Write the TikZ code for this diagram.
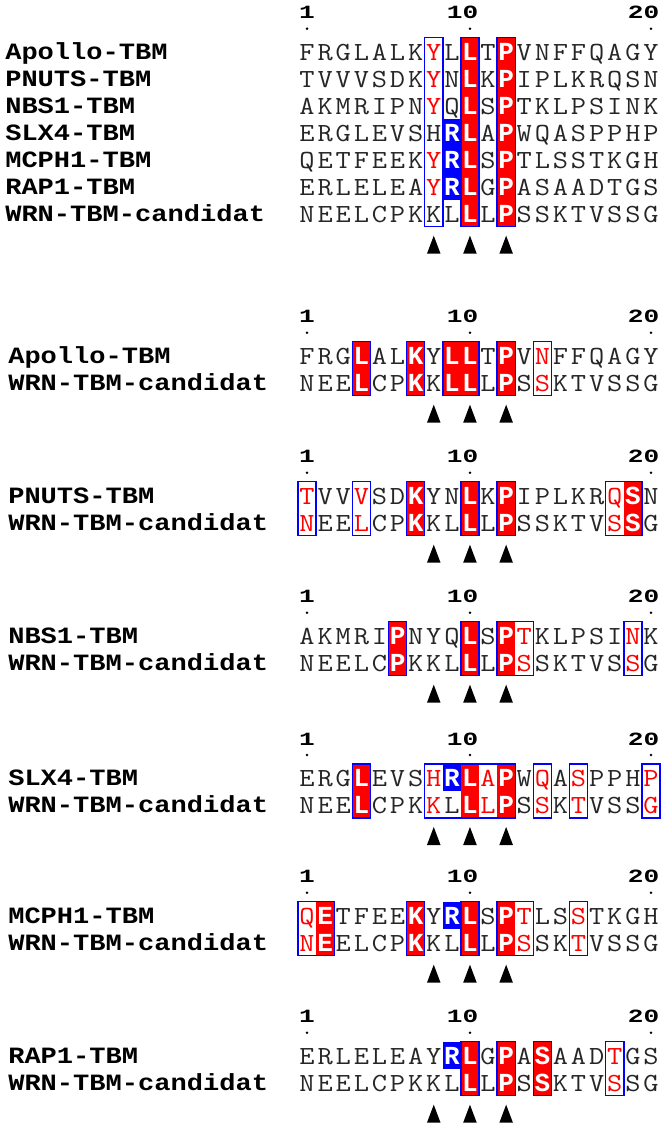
\documentclass[tikz,border=0pt]{standalone}
\usepackage{fontspec}
\usepackage{graphicx}
\newfontfamily\monob{Liberation Mono}

\tikzset{
  seqlet/.style={font=\ttfamily\fontsize{19.6}{21}\selectfont, text=black!85, inner sep=0pt, anchor=base},
  seqred/.style={seqlet, text=red},
  seqwhite/.style={font=\monob\bfseries\fontsize{19.5}{20}\selectfont, text=white, inner sep=0pt, anchor=base},
  seqlabel/.style={font=\monob\bfseries\fontsize{17.5}{20}\selectfont, text=black, inner sep=0pt, anchor=base west},
  posnum/.style={font=\monob\bfseries\fontsize{14}{16}\selectfont, text=black, inner sep=0pt},
  redfill/.style={fill=red},
  bluefill/.style={fill=blue},
  outl/.style={draw=blue, line width=1.05pt},
  markdot/.style={fill=black},
  marktri/.style={fill=black},
}

\newcommand\wid[1]{\scalebox{1.13}[1]{#1}}

\def\placelet#1#2\relax{%
  \ifx#1*\node[seqred] (\pfx c\i) at (\xx,\yyb) {\wid{#2}};%
  \else\ifx#1!\node[seqwhite] (\pfx c\i) at (\xx,\yyb) {#2};%
  \else\node[seqlet] (\pfx c\i) at (\xx,\yyb) {\wid{#1#2}};%
  \fi\fi}

% #1 prefix, #2 block top, #3 row, #4 list
\newcommand\seqline[4]{%
  \def\pfx{#1}\pgfmathsetmacro\yyb{#2+27*(#3-1)+22.7}%
  \foreach \c [count=\i] in {#4}{%
    \pgfmathsetmacro\xx{298+(\i-0.5)*18.1}%
    \expandafter\placelet\c\relax}}

% #1 name, #2 x, #3 block top, #4 row, #5 text
\newcommand\seqlab[5]{%
  \node[seqlabel] (#1) at ({#2},{#3+27*(#4-1)+21.7}) {\scalebox{1.16}[1]{#5}};}

% #1 style, #2 T, #3 c1, #4 c2, #5 r1, #6 r2
\newcommand\cbox[6]{\path[#1] ({298+(#3-1)*18.1},{#2+27*(#5-1)}) rectangle ({298+#4*18.1},{#2+27*#6});}

% #1 prefix, #2 T
\newcommand\posrow[2]{%
  \node[posnum, anchor=base] (#1n1) at ({298+0.5*18.1},{#2-19}) {\scalebox{1.4}[1]{1}};
  \node[posnum, anchor=base east] (#1n10) at ({298+9.5*18.1+8.5},{#2-19}) {\scalebox{1.4}[1]{10}};
  \node[posnum, anchor=base east] (#1n20) at ({298+19.5*18.1+8.5},{#2-19}) {\scalebox{1.4}[1]{20}};
  \fill[markdot] ({298+0.5*18.1},{#2-9}) circle[radius=1.05pt];
  \fill[markdot] ({298+9.5*18.1},{#2-9}) circle[radius=1.05pt];
  \fill[markdot] ({298+19.5*18.1},{#2-9}) circle[radius=1.05pt];}

% #1 T, #2 number of rows
\newcommand\tris[2]{%
  \foreach \cc in {8,10,12}{%
    \pgfmathsetmacro\tx{298+(\cc-0.5)*18.1}%
    \pgfmathsetmacro\ty{#1+27*(#2-1)+15}%
    \fill[marktri] ({\tx-6.8},{\ty+39}) -- ({\tx+6.8},{\ty+39}) -- ({\tx},{\ty+21}) -- cycle;}}

\begin{document}
\begin{tikzpicture}[x=0.75pt,y=-0.75pt]
\fill[white] (0,0) rectangle (663,1128);
\useasboundingbox (0,0) rectangle (663,1128);

% ---------------- Block 1 ----------------
\def\T{37.7}
\cbox{redfill}{\T}{10}{10}{1}{7}
\cbox{redfill}{\T}{12}{12}{1}{7}
\cbox{bluefill}{\T}{9}{9}{4}{6}
\cbox{outl}{\T}{8}{8}{1}{7}
\cbox{outl}{\T}{10}{10}{1}{7}
\cbox{outl}{\T}{12}{12}{1}{7}
\posrow{ba}{\T}
\seqlab{ba1}{5}{\T}{1}{Apollo-TBM}
\seqlab{ba2}{5}{\T}{2}{PNUTS-TBM}
\seqlab{ba3}{5}{\T}{3}{NBS1-TBM}
\seqlab{ba4}{5}{\T}{4}{SLX4-TBM}
\seqlab{ba5}{5}{\T}{5}{MCPH1-TBM}
\seqlab{ba6}{5}{\T}{6}{RAP1-TBM}
\seqlab{ba7}{5}{\T}{7}{WRN-TBM-candidat}
\seqline{bar1}{\T}{1}{F,R,G,L,A,L,K,*Y,L,!L,T,!P,V,N,F,F,Q,A,G,Y}
\seqline{bar2}{\T}{2}{T,V,V,V,S,D,K,*Y,N,!L,K,!P,I,P,L,K,R,Q,S,N}
\seqline{bar3}{\T}{3}{A,K,M,R,I,P,N,*Y,Q,!L,S,!P,T,K,L,P,S,I,N,K}
\seqline{bar4}{\T}{4}{E,R,G,L,E,V,S,H,!R,!L,A,!P,W,Q,A,S,P,P,H,P}
\seqline{bar5}{\T}{5}{Q,E,T,F,E,E,K,*Y,!R,!L,S,!P,T,L,S,S,T,K,G,H}
\seqline{bar6}{\T}{6}{E,R,L,E,L,E,A,*Y,!R,!L,G,!P,A,S,A,A,D,T,G,S}
\seqline{bar7}{\T}{7}{N,E,E,L,C,P,K,K,L,!L,L,!P,S,S,K,T,V,S,S,G}
\tris{\T}{7}

% ---------------- Block 2 ----------------
\def\T{341.7}
\cbox{redfill}{\T}{4}{4}{1}{2}
\cbox{redfill}{\T}{7}{7}{1}{2}
\cbox{redfill}{\T}{9}{10}{1}{2}
\cbox{redfill}{\T}{12}{12}{1}{2}
\cbox{outl}{\T}{4}{4}{1}{2}
\cbox{outl}{\T}{7}{7}{1}{2}
\cbox{outl}{\T}{9}{10}{1}{2}
\cbox{outl}{\T}{12}{12}{1}{2}
\cbox{outl}{\T}{14}{14}{1}{2}
\posrow{bb}{\T}
\seqlab{bb1}{8}{\T}{1}{Apollo-TBM}
\seqlab{bb2}{8}{\T}{2}{WRN-TBM-candidat}
\seqline{bbr1}{\T}{1}{F,R,G,!L,A,L,!K,Y,!L,!L,T,!P,V,*N,F,F,Q,A,G,Y}
\seqline{bbr2}{\T}{2}{N,E,E,!L,C,P,!K,K,!L,!L,L,!P,S,*S,K,T,V,S,S,G}
\tris{\T}{2}

% ---------------- Block 3 ----------------
\def\T{481.7}
\cbox{redfill}{\T}{7}{7}{1}{2}
\cbox{redfill}{\T}{10}{10}{1}{2}
\cbox{redfill}{\T}{12}{12}{1}{2}
\cbox{redfill}{\T}{19}{19}{1}{2}
\cbox{outl}{\T}{1}{1}{1}{2}
\cbox{outl}{\T}{4}{4}{1}{2}
\cbox{outl}{\T}{7}{7}{1}{2}
\cbox{outl}{\T}{10}{10}{1}{2}
\cbox{outl}{\T}{12}{12}{1}{2}
\cbox{outl}{\T}{18}{19}{1}{2}
\posrow{bc}{\T}
\seqlab{bc1}{8}{\T}{1}{PNUTS-TBM}
\seqlab{bc2}{8}{\T}{2}{WRN-TBM-candidat}
\seqline{bcr1}{\T}{1}{*T,V,V,*V,S,D,!K,Y,N,!L,K,!P,I,P,L,K,R,*Q,!S,N}
\seqline{bcr2}{\T}{2}{*N,E,E,*L,C,P,!K,K,L,!L,L,!P,S,S,K,T,V,*S,!S,G}
\tris{\T}{2}

% ---------------- Block 4 ----------------
\def\T{621.7}
\cbox{redfill}{\T}{6}{6}{1}{2}
\cbox{redfill}{\T}{10}{10}{1}{2}
\cbox{redfill}{\T}{12}{12}{1}{2}
\cbox{outl}{\T}{6}{6}{1}{2}
\cbox{outl}{\T}{10}{10}{1}{2}
\cbox{outl}{\T}{12}{13}{1}{2}
\cbox{outl}{\T}{19}{19}{1}{2}
\posrow{bd}{\T}
\seqlab{bd1}{8}{\T}{1}{NBS1-TBM}
\seqlab{bd2}{8}{\T}{2}{WRN-TBM-candidat}
\seqline{bdr1}{\T}{1}{A,K,M,R,I,!P,N,Y,Q,!L,S,!P,*T,K,L,P,S,I,*N,K}
\seqline{bdr2}{\T}{2}{N,E,E,L,C,!P,K,K,L,!L,L,!P,*S,S,K,T,V,S,*S,G}
\tris{\T}{2}

% ---------------- Block 5 ----------------
\def\T{764}
\cbox{redfill}{\T}{4}{4}{1}{2}
\cbox{redfill}{\T}{10}{10}{1}{2}
\cbox{redfill}{\T}{12}{12}{1}{2}
\cbox{bluefill}{\T}{9}{9}{1}{1}
\cbox{outl}{\T}{4}{4}{1}{2}
\cbox{outl}{\T}{8}{12}{1}{2}
\cbox{outl}{\T}{14}{14}{1}{2}
\cbox{outl}{\T}{16}{16}{1}{2}
\cbox{outl}{\T}{20}{20}{1}{2}
\posrow{be}{\T}
\seqlab{be1}{8}{\T}{1}{SLX4-TBM}
\seqlab{be2}{8}{\T}{2}{WRN-TBM-candidat}
\seqline{ber1}{\T}{1}{E,R,G,!L,E,V,S,*H,!R,!L,*A,!P,W,*Q,A,*S,P,P,H,*P}
\seqline{ber2}{\T}{2}{N,E,E,!L,C,P,K,*K,L,!L,*L,!P,S,*S,K,*T,V,S,S,*G}
\tris{\T}{2}

% ---------------- Block 6 ----------------
\def\T{901.7}
\cbox{redfill}{\T}{2}{2}{1}{2}
\cbox{redfill}{\T}{7}{7}{1}{2}
\cbox{redfill}{\T}{10}{10}{1}{2}
\cbox{redfill}{\T}{12}{12}{1}{2}
\cbox{bluefill}{\T}{9}{9}{1}{1}
\cbox{outl}{\T}{1}{2}{1}{2}
\cbox{outl}{\T}{7}{7}{1}{2}
\cbox{outl}{\T}{10}{10}{1}{2}
\cbox{outl}{\T}{12}{13}{1}{2}
\cbox{outl}{\T}{16}{16}{1}{2}
\posrow{bf}{\T}
\seqlab{bf1}{8}{\T}{1}{MCPH1-TBM}
\seqlab{bf2}{8}{\T}{2}{WRN-TBM-candidat}
\seqline{bfr1}{\T}{1}{*Q,!E,T,F,E,E,!K,Y,!R,!L,S,!P,*T,L,S,*S,T,K,G,H}
\seqline{bfr2}{\T}{2}{*N,!E,E,L,C,P,!K,K,L,!L,L,!P,*S,S,K,*T,V,S,S,G}
\tris{\T}{2}

% ---------------- Block 7 ----------------
\def\T{1041.7}
\cbox{redfill}{\T}{10}{10}{1}{2}
\cbox{redfill}{\T}{12}{12}{1}{2}
\cbox{redfill}{\T}{14}{14}{1}{2}
\cbox{bluefill}{\T}{9}{9}{1}{1}
\cbox{outl}{\T}{10}{10}{1}{2}
\cbox{outl}{\T}{12}{12}{1}{2}
\cbox{outl}{\T}{14}{14}{1}{2}
\cbox{outl}{\T}{18}{18}{1}{2}
\posrow{bg}{\T}
\seqlab{bg1}{8}{\T}{1}{RAP1-TBM}
\seqlab{bg2}{8}{\T}{2}{WRN-TBM-candidat}
\seqline{bgr1}{\T}{1}{E,R,L,E,L,E,A,Y,!R,!L,G,!P,A,!S,A,A,D,*T,G,S}
\seqline{bgr2}{\T}{2}{N,E,E,L,C,P,K,K,L,!L,L,!P,S,!S,K,T,V,*S,S,G}
\tris{\T}{2}
\end{tikzpicture}
\end{document}
